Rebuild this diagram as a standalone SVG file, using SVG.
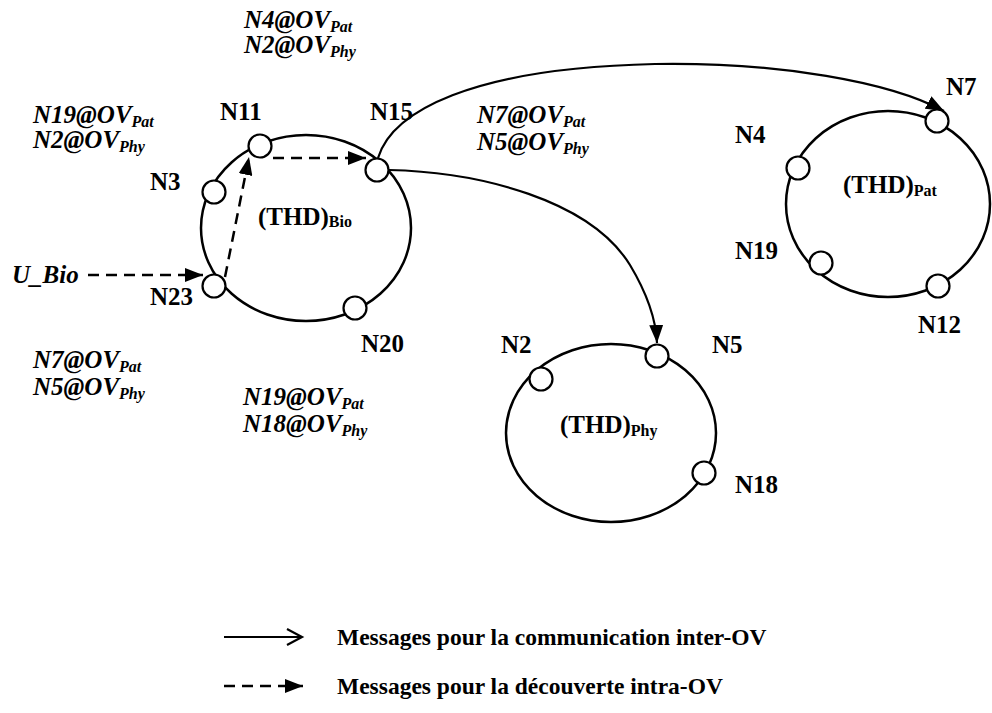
<svg xmlns="http://www.w3.org/2000/svg" width="992" height="713" viewBox="0 0 992 713">
  <defs>
    <style>
      .ring { fill: none; stroke: #000; stroke-width: 2.5; }
      .node { fill: #fff; stroke: #000; stroke-width: 2.2; }
      .lbl { font-family: "Liberation Serif", "Times New Roman", serif; font-weight: bold; font-size: 25px; fill: #000; }
      .ital { font-family: "Liberation Serif", "Times New Roman", serif; font-weight: bold; font-style: italic; font-size: 25px; fill: #000; }
      .leg { font-family: "Liberation Serif", "Times New Roman", serif; font-weight: bold; font-size: 23.5px; fill: #000; }
      .sub { font-size: 16px; }
      .solid { fill: none; stroke: #000; stroke-width: 2.2; }
      .dash { fill: none; stroke: #000; stroke-width: 2.5; stroke-dasharray: 11 7; }
    </style>
    <marker id="head" markerUnits="userSpaceOnUse" markerWidth="20" markerHeight="14" refX="18" refY="7" orient="auto">
      <path d="M0,0 L18,7 L0,14 z" fill="#000"/>
    </marker>
  </defs>
  <rect width="992" height="713" fill="#fff"/>

  <!-- Overlay rings -->
  <g id="ring-bio">
    <ellipse class="ring" cx="306" cy="228" rx="105" ry="93"/>
    <text class="lbl" x="258" y="225">(THD)<tspan class="sub" dy="2">Bio</tspan></text>
  </g>
  <g id="ring-pat">
    <ellipse class="ring" cx="888" cy="204" rx="102" ry="93"/>
    <text class="lbl" x="843" y="193">(THD)<tspan class="sub" dy="3">Pat</tspan></text>
  </g>
  <g id="ring-phy">
    <ellipse class="ring" cx="611" cy="433" rx="105" ry="89"/>
    <text class="lbl" x="560" y="433">(THD)<tspan class="sub" dy="3">Phy</tspan></text>
  </g>

  <!-- Connectors -->
  <g id="connectors">
    <path class="solid" d="M378,158 C392,112 470,68 655,64 C780,62 890,82 944,111" marker-end="url(#head)"/>
    <path class="solid" d="M389,170 C480,172 590,200 630,265 C648,295 656,320 657,343" marker-end="url(#head)"/>
    <line class="dash" x1="88" y1="275" x2="203" y2="275" marker-end="url(#head)"/>
    <line class="dash" x1="225" y1="277" x2="249" y2="157" marker-end="url(#head)"/>
    <line class="dash" x1="273" y1="158" x2="366" y2="158" marker-end="url(#head)"/>
  </g>

  <!-- Bio ring members -->
  <g id="N11"><circle class="node" cx="260" cy="146" r="11.5"/><text class="lbl" x="220" y="120">N11</text></g>
  <g id="N15"><circle class="node" cx="377" cy="170" r="11.5"/><text class="lbl" x="370" y="120">N15</text></g>
  <g id="N3"><circle class="node" cx="214" cy="192" r="11.5"/><text class="lbl" x="150" y="190">N3</text></g>
  <g id="N23"><circle class="node" cx="214" cy="286" r="11.5"/><text class="lbl" x="150" y="305">N23</text></g>
  <g id="N20"><circle class="node" cx="355" cy="308" r="11.5"/><text class="lbl" x="361" y="352">N20</text></g>

  <!-- Pat ring members -->
  <g id="N7"><circle class="node" cx="937" cy="121" r="11.5"/><text class="lbl" x="946" y="95">N7</text></g>
  <g id="N4"><circle class="node" cx="798" cy="168" r="11.5"/><text class="lbl" x="735" y="143">N4</text></g>
  <g id="N19"><circle class="node" cx="821" cy="263" r="11.5"/><text class="lbl" x="735" y="259">N19</text></g>
  <g id="N12"><circle class="node" cx="938" cy="286" r="11.5"/><text class="lbl" x="918" y="333">N12</text></g>

  <!-- Phy ring members -->
  <g id="N2"><circle class="node" cx="541" cy="379" r="11.5"/><text class="lbl" x="501" y="353">N2</text></g>
  <g id="N5"><circle class="node" cx="657" cy="356" r="11.5"/><text class="lbl" x="712" y="353">N5</text></g>
  <g id="N18"><circle class="node" cx="704" cy="473" r="11.5"/><text class="lbl" x="735" y="493">N18</text></g>

  <!-- Entry point -->
  <g id="U_Bio"><text class="ital" x="12" y="283">U_Bio</text></g>

  <!-- Routing table annotations -->
  <g id="table-N15">
    <text class="ital" x="244" y="28">N4@OV<tspan class="sub" dy="4">Pat</tspan></text>
    <text class="ital" x="244" y="53">N2@OV<tspan class="sub" dy="4">Phy</tspan></text>
  </g>
  <g id="table-N11">
    <text class="ital" x="33" y="123">N19@OV<tspan class="sub" dy="4">Pat</tspan></text>
    <text class="ital" x="33" y="148">N2@OV<tspan class="sub" dy="4">Phy</tspan></text>
  </g>
  <g id="table-N15b">
    <text class="ital" x="477" y="123">N7@OV<tspan class="sub" dy="4">Pat</tspan></text>
    <text class="ital" x="477" y="150">N5@OV<tspan class="sub" dy="4">Phy</tspan></text>
  </g>
  <g id="table-N23">
    <text class="ital" x="33" y="368">N7@OV<tspan class="sub" dy="4">Pat</tspan></text>
    <text class="ital" x="33" y="395">N5@OV<tspan class="sub" dy="4">Phy</tspan></text>
  </g>
  <g id="table-N20">
    <text class="ital" x="243" y="405">N19@OV<tspan class="sub" dy="4">Pat</tspan></text>
    <text class="ital" x="243" y="432">N18@OV<tspan class="sub" dy="4">Phy</tspan></text>
  </g>

  <!-- Legend -->
  <g id="legend">
    <line class="solid" x1="224" y1="637" x2="301" y2="637"/>
    <path class="solid" d="M287,629 L302,637 L287,645"/>
    <text class="leg" x="337" y="645">Messages pour la communication inter-OV</text>
    <line class="dash" x1="224" y1="686" x2="303" y2="686" stroke-dasharray="9 6" marker-end="url(#head)"/>
    <text class="leg" x="337" y="694">Messages pour la découverte intra-OV</text>
  </g>
</svg>
